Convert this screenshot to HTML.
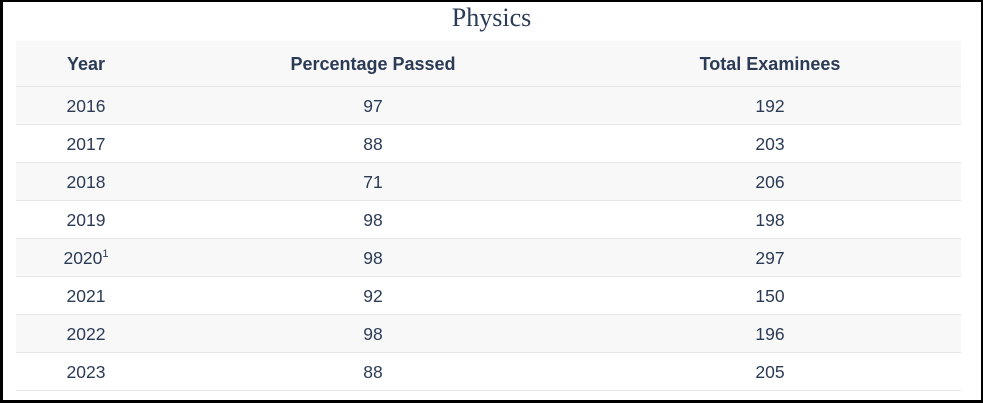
<!DOCTYPE html>
<html><head><meta charset="utf-8"><style>
html,body{margin:0;padding:0;background:#fff;}
.frame{position:absolute;left:0;top:0;width:983px;height:403px;box-sizing:border-box;border:2px solid #000;border-left-width:3px;border-bottom-width:3px;}
h1{position:absolute;left:0;top:3px;width:983px;margin:0;text-align:center;font-family:"Liberation Serif",serif;font-weight:normal;font-size:26px;color:#2b3b55;line-height:30px;}
table{position:absolute;left:16px;top:41px;border-collapse:collapse;font-family:"Liberation Sans",sans-serif;color:#2b3a55;font-size:17.5px;}
td,th{text-align:center;padding:2px 0 0 0;height:35px;border-bottom:1px solid #e6e6e6;}
th{height:43px;font-weight:bold;font-size:18px;}
td:nth-child(3),th:nth-child(3){padding-right:11px;}
tr.g{background:#f8f8f8;}
sup{font-size:11px;vertical-align:7px;line-height:0;}
</style></head><body>
<div class="frame"></div>
<h1>Physics</h1>
<table>
<colgroup><col style="width:140px"><col style="width:434px"><col style="width:371px"></colgroup>
<tr class="g"><th>Year</th><th>Percentage Passed</th><th>Total Examinees</th></tr>
<tr class="g"><td>2016</td><td>97</td><td>192</td></tr>
<tr><td>2017</td><td>88</td><td>203</td></tr>
<tr class="g"><td>2018</td><td>71</td><td>206</td></tr>
<tr><td>2019</td><td>98</td><td>198</td></tr>
<tr class="g"><td>2020<sup>1</sup></td><td>98</td><td>297</td></tr>
<tr><td>2021</td><td>92</td><td>150</td></tr>
<tr class="g"><td>2022</td><td>98</td><td>196</td></tr>
<tr><td>2023</td><td>88</td><td>205</td></tr>
</table>
</body></html>
